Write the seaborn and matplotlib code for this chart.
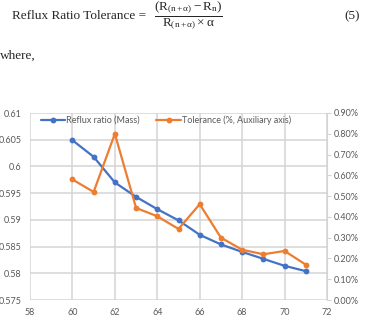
import numpy as np
import pandas as pd
import matplotlib
matplotlib.use("Agg")
import matplotlib.pyplot as plt
import seaborn as sns
from matplotlib.ticker import FuncFormatter

# datos
x_vals = [60, 61, 62, 63, 64, 65, 66, 67, 68, 69, 70, 71]
reflux_ratio = [0.6049, 0.6018, 0.5970, 0.5943, 0.5920, 0.5899,
                0.5872, 0.5854, 0.5840, 0.5827, 0.5814, 0.5804]
tolerance = [0.58, 0.52, 0.80, 0.443, 0.403, 0.342,
             0.461, 0.300, 0.242, 0.220, 0.236, 0.170]
label_ratio = "Reflux ratio (Mass)"
label_tol = "Tolerance (%, Auxiliary axis)"

df = pd.DataFrame({
    "x": x_vals,
    "ratio": reflux_ratio,
    "tol": tolerance
})

sns.set_style("white")
plt.rcParams["font.family"] = ["Lato", "DejaVu Sans"]
plt.rcParams["mathtext.fontset"] = "custom"
plt.rcParams["mathtext.rm"] = "Liberation Serif"
plt.rcParams["mathtext.it"] = "Liberation Serif:italic"

blue = "#4472C4"
orange = "#ED7D31"
grid_c = "#D4D4D4"
txt_c = "#595959"

fig = plt.figure(figsize=(3.65, 3.17), dpi=100)

# ecuacion de encima
fig.text(12 / 365, 1 - 16 / 317, "Reflux Ratio Tolerance =",
         family="Liberation Serif", fontsize=9.5, va="center", ha="left")
fig.text(188 / 365, 1 - 16 / 317,
         r"$\dfrac{(\mathrm{R}_{(\mathrm{n+α})}-\mathrm{R}_{\mathrm{n}})}"
         r"{\mathrm{R}_{(\mathrm{n+α})}\times\mathrm{α}}$",
         fontsize=9.5, va="center", ha="center")
fig.text(360 / 365, 1 - 16 / 317, "(5)",
         family="Liberation Serif", fontsize=9.5, va="center", ha="right")
fig.text(0, 1 - 56 / 317, "where,",
         family="Liberation Serif", fontsize=9.5, va="center", ha="left")

ax = fig.add_axes([30 / 365, 17 / 317, 297 / 365, 187 / 317])
ax2 = ax.twinx()

# lineas de cuadricula
for xv in np.arange(58, 73, 2):
    ax.axvline(xv, color=grid_c, linewidth=1.1, zorder=0)
for yv in np.arange(0.575, 0.6101, 0.005):
    ax.axhline(yv, color=grid_c, linewidth=1.1, zorder=0)

sns.lineplot(data=df, x="x", y="ratio", ax=ax, color=blue, marker="o",
             markersize=4.2, markeredgewidth=0, linewidth=1.6, label=label_ratio,
             legend=False)
sns.lineplot(data=df, x="x", y="tol", ax=ax2, color=orange, marker="o",
             markersize=4.2, markeredgewidth=0, linewidth=1.6, label=label_tol,
             legend=False)

ax.set_xlim(58, 72)
ax.set_ylim(0.575, 0.61)
ax.set_xticks(np.arange(58, 73, 2))
ax.set_yticks(np.arange(0.575, 0.6101, 0.005))
ax.yaxis.set_major_formatter(FuncFormatter(lambda v, p: f"{v:.3f}".rstrip("0")))
ax2.set_ylim(0, 0.9)
ax2.set_yticks(np.arange(0, 0.91, 0.1))
ax2.yaxis.set_major_formatter(FuncFormatter(lambda v, p: f"{v:.2f}%"))

ax.set_xlabel("")
ax.set_ylabel("")
ax2.set_ylabel("")

for a in (ax, ax2):
    for s in a.spines.values():
        s.set_visible(False)
ax2.spines["right"].set_visible(True)
ax2.spines["right"].set_color(grid_c)

ax.tick_params(axis="both", labelsize=6.5, colors=txt_c, length=0, pad=6)
ax2.tick_params(axis="y", labelsize=6.5, colors=txt_c, length=3, width=0.8,
                pad=2)
ax2.tick_params(axis="y", color=grid_c)

h1, l1 = ax.get_legend_handles_labels()
h2, l2 = ax2.get_legend_handles_labels()
ax2.legend(h1 + h2, l1 + l2, loc="center", ncol=2, frameon=False,
           fontsize=6.5, labelcolor=txt_c, handlelength=2.7,
           handletextpad=0.15, columnspacing=1.8,
           bbox_to_anchor=(166 / 365, 1 - 120 / 317),
           bbox_transform=fig.transFigure)

fig.savefig("out.png", dpi=100)
